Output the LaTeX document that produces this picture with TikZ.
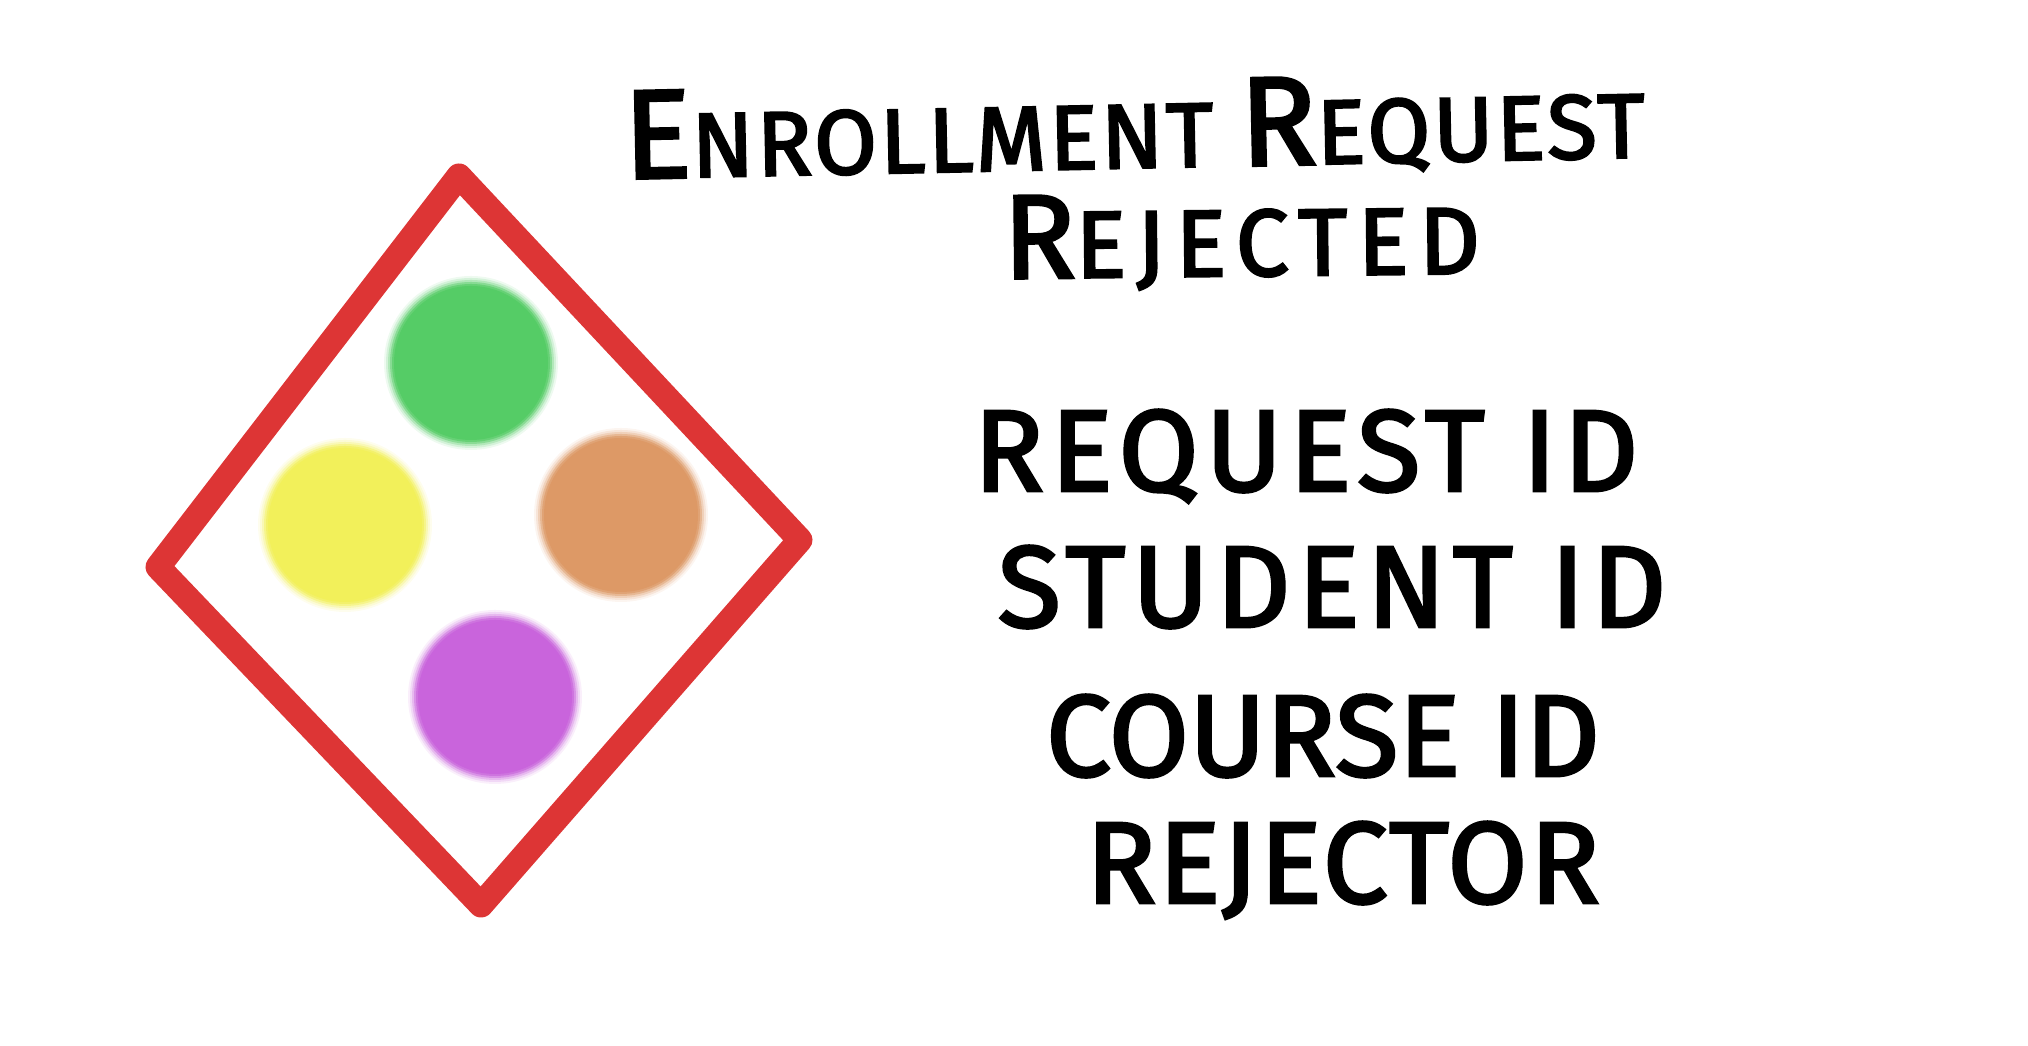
\documentclass[tikz,border=0pt]{standalone}
\usepackage{fontspec}
\newfontfamily\handfont{Fira Sans}[FakeBold=2.5,LetterSpace=6]
\usetikzlibrary{positioning}

\definecolor{rimred}{HTML}{DD3535}
\definecolor{dotgreen}{HTML}{55CC66}
\definecolor{dotyellow}{HTML}{F2F05A}
\definecolor{dotorange}{HTML}{DD9966}
\definecolor{dotpurple}{HTML}{C964DC}

\newcommand{\initcap}[2]{{\fontsize{#1}{#1}\selectfont #2}}

\begin{document}
\begin{tikzpicture}[
  line width=0.8pt,
  rim/.style={rimred,line width=0.25cm,line join=round,line cap=round},
  head label/.style={font=\handfont\fontsize{26}{30}\selectfont,
    inner sep=0pt,anchor=base,rotate=1.2},
  field label/.style={font=\handfont\fontsize{33}{36}\selectfont,
    inner sep=0pt,anchor=base}
]

\useasboundingbox (0,0) rectangle (20.28,10.46);

% ==================================================
% event card
% ==================================================
\begin{scope}

  % blurred dots
  \foreach \x/\y/\p in {4.71/6.83/dotgreen,3.45/5.21/dotyellow,
                        6.21/5.31/dotorange,4.95/3.49/dotpurple}{
    \foreach \r/\m in {0.87/10,0.85/25,0.83/45,0.81/70,0.79/90,0.77/100}{
      \fill[\p!\m!white] (\x,\y) circle (\r);
    }
  }

  % diamond outline
  \draw[rim]
    (4.59,8.70) -- (8.00,5.06) -- (4.81,1.41) -- (1.58,4.79) -- cycle;

\end{scope}

% ==================================================
% title and fields
% ==================================================
\node[head label] (title) at (11.35,8.78)
  {\addfontfeature{LetterSpace=3}\initcap{36}{E}NROLLMENT \initcap{36}{R}EQUEST};
\node[head label,rotate=-0.6] (titlerest) at (12.42,7.70)
  {\addfontfeature{LetterSpace=11}\fontsize{27}{30}\selectfont\initcap{34}{R}EJECTED};

\node[field label] (requestid) at (13.06,5.55) {REQUEST ID};
\node[field label] (studentid) at (13.32,4.19) {STUDENT ID};
\node[field label] (courseid)  at (13.23,2.70)
  {\addfontfeature{LetterSpace=0}COURSE ID};
\node[field label] (rejector)  at (13.43,1.43)
  {\addfontfeature{LetterSpace=2}REJECTOR};

\end{tikzpicture}
\end{document}
